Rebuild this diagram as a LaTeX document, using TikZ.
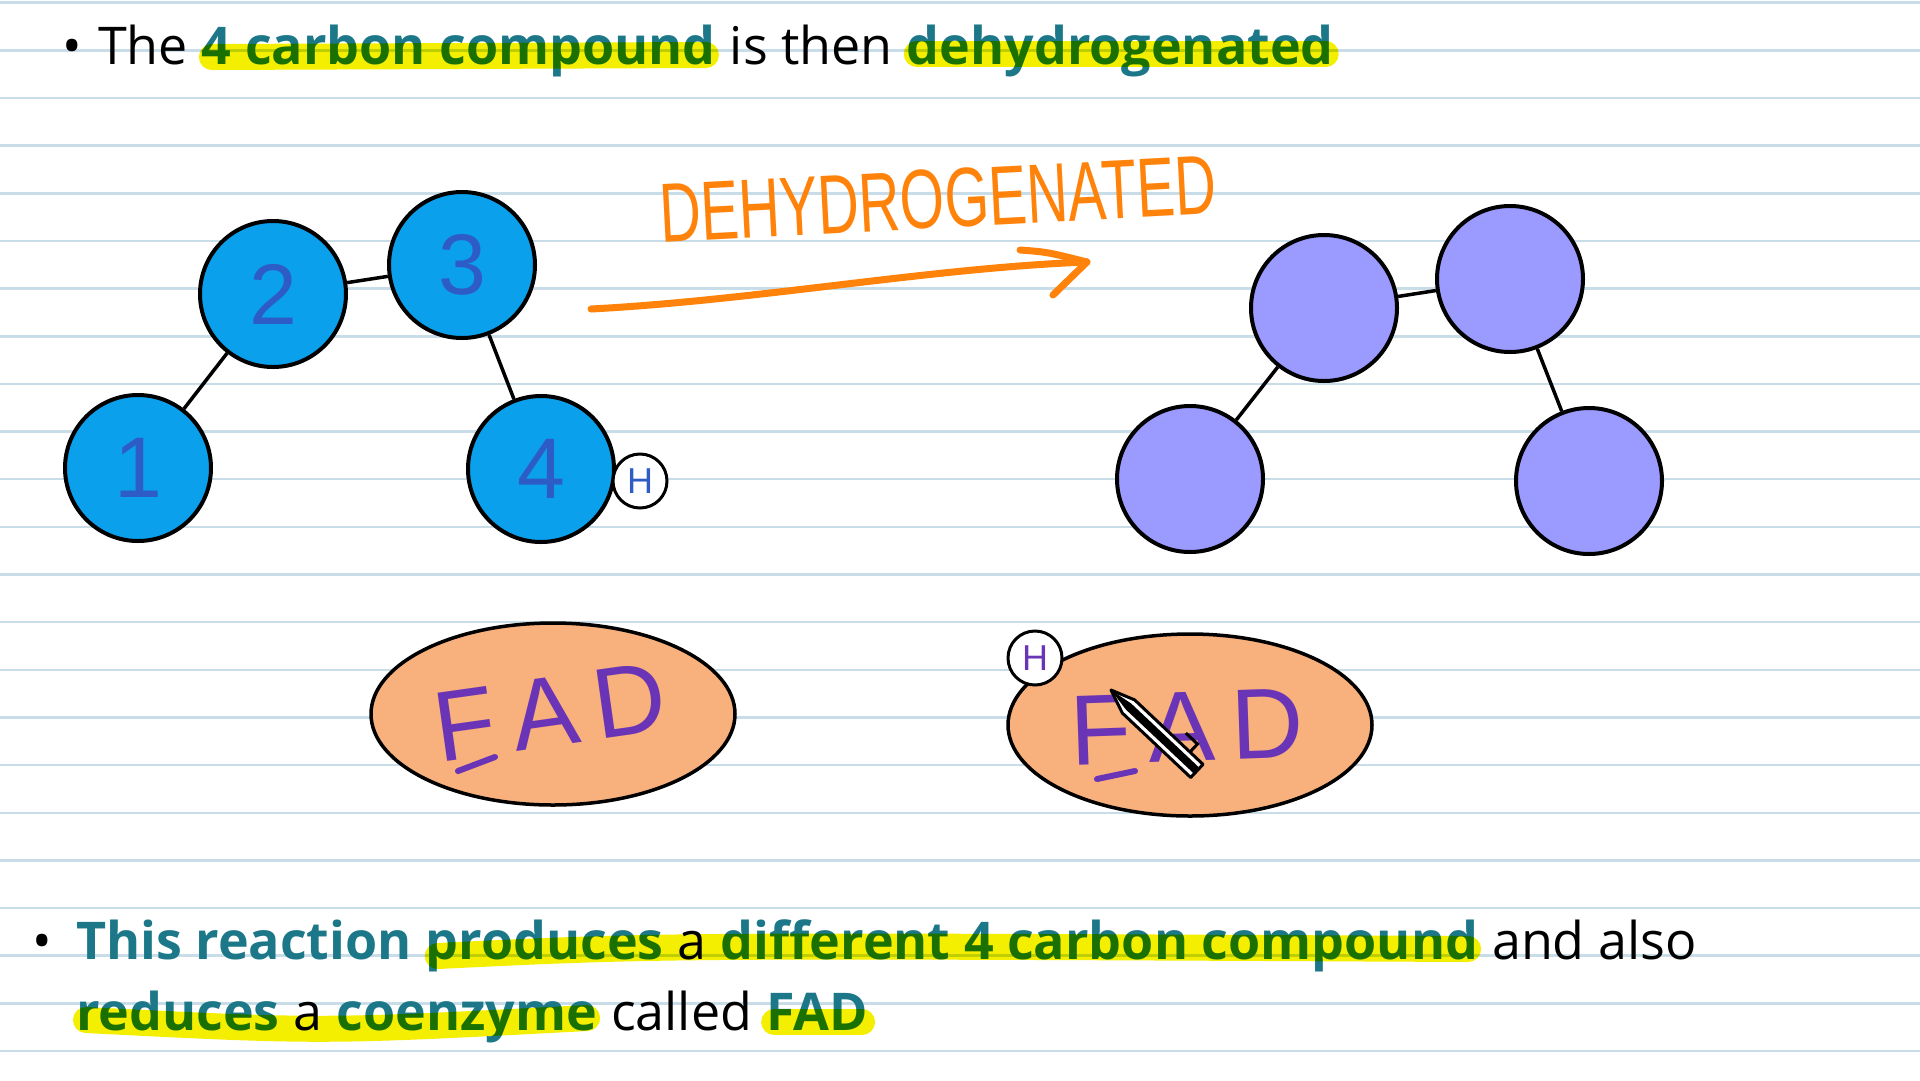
\documentclass[tikz,border=0pt]{standalone}
\usepackage{fontspec}
\usepackage{graphicx}
\setmainfont{Open Sans}
\newfontfamily\handfont{Liberation Sans}
\usetikzlibrary{calc}
\definecolor{rulecol}{HTML}{C8DDE8}
\definecolor{tealtx}{HTML}{1C7888}
\definecolor{hlyel}{HTML}{F4EE00}
\definecolor{cblue}{HTML}{0BA0EC}
\definecolor{cpurp}{HTML}{9A9AFF}
\definecolor{numblue}{HTML}{2E5CC6}
\definecolor{peach}{HTML}{F8B07C}
\definecolor{fadpurp}{HTML}{6A34B6}
\definecolor{orng}{HTML}{FF820A}
\tikzset{
  txt/.style={anchor=base west, inner sep=0pt, outer sep=0pt, font=\fontsize{52}{62}\selectfont},
  btxt/.style={txt, font=\fontsize{52}{62}\selectfont\bfseries, text=tealtx},
  hl/.style={draw=hlyel, line width=26pt, line cap=round},
  atom/.style={circle, draw=black, line width=4pt, minimum size=146pt, inner sep=0pt},
  bluatom/.style={atom, fill=cblue, text=numblue, font=\handfont\fontsize{86}{86}\selectfont},
  purpatom/.style={atom, fill=cpurp},
  bond/.style={draw=black, line width=3.5pt},
  hion/.style={circle, draw=black, line width=3pt, fill=white, minimum size=54pt, inner sep=0pt, font=\handfont\fontsize{36}{36}\selectfont},
  fadell/.style={ellipse, draw=black, line width=3.5pt, fill=peach, minimum width=364pt, minimum height=182pt, inner sep=0pt},
  fadtxt/.style={inner sep=0pt, text=fadpurp, font=\handfont\fontsize{100}{100}\selectfont},
}
\usetikzlibrary{shapes.geometric}
\begin{document}
\begin{tikzpicture}[x=1pt,y=-1pt]
\useasboundingbox (0,0) rectangle (1920,1080);
\fill[white] (0,0) rectangle (1920,1080);
\foreach \k in {0,...,22} \draw[rulecol, line width=2.5pt] (0,{2.7+47.65*\k}) -- (1920,{2.7+47.65*\k});

% top line
\node[txt] (b0) at (62,64) {•};
\node[txt] (t1) at (98,64) {The};
\node[btxt] (t2) at ($(t1.base east)+(14,0)$) {4 carbon compound};
\node[txt] (t3) at ($(t2.base east)+(14,0)$) {is then};
\node[btxt] (t4) at ($(t3.base east)+(14,0)$) {dehydrogenated};
\begin{scope}[blend mode=multiply]
\draw[hl] ($(t2.base west)+(10,-7)$) -- ($(t2.base east)+(-10,-9)$);
\draw[hl] ($(t4.base west)+(10,-10)$) -- ($(t4.base east)+(-8,-10)$);
\end{scope}

% left molecule
\node[bluatom] (c1) at (138,468) {1};
\node[bluatom] (c2) at (273,294) {2};
\node[bluatom] (c3) at (462,265) {3};
\node[bluatom] (c4) at (541,469) {4};
\draw[bond] (c1) -- (c2);
\draw[bond] (c2) -- (c3);
\draw[bond] (c3) -- (c4);
\node[hion, text=numblue] (h1) at (640,481) {H};

% arrow
\node[inner sep=0pt, text=orng, rotate=3] (lab) at (938,199) {\scalebox{0.68}[1]{\handfont\fontsize{84}{84}\selectfont DEHYDROGENATED}};
\coordinate (a0) at (591,309);
\coordinate (a1) at (1087,262);
\draw[orng, line width=7pt, line cap=round] (a0) .. controls (760,300) and (930,268) .. (a1);
\draw[orng, line width=7pt, line cap=round, line join=round] ($(a1)+(-67,-12)$) .. controls ($(a1)+(-40,-10)$) .. (a1) -- ($(a1)+(-34,33)$);

% right molecule
\node[purpatom] (d1) at (1190,479) {};
\node[purpatom] (d2) at (1324,308) {};
\node[purpatom] (d3) at (1510,279) {};
\node[purpatom] (d4) at (1589,481) {};
\draw[bond] (d1) -- (d2);
\draw[bond] (d2) -- (d3);
\draw[bond] (d3) -- (d4);

% FAD left
\node[fadell] (e1) at (553,714) {};
\node[fadtxt, rotate=8] (f1) at (550,712) {F\,A\,D};
\draw[fadpurp, line width=6pt, line cap=round] (458,771) -- (495,757);

% FAD right
\node[fadell] (e2) at (1190,725) {};
\node[fadtxt, rotate=2] (f2) at (1187,727) {F\,A\,D};
\draw[fadpurp, line width=6pt, line cap=round] (1097,779) -- (1135,771);
\node[hion, text=fadpurp] (h2) at (1035,658) {H};

% pen cursor
\begin{scope}[shift={(1111,690)}, rotate=-43.3]
\draw[black, line width=3pt, fill=white, line join=round] (0,0) -- (24,-9) -- (118,-9) -- (118,9) -- (24,9) -- cycle;
\fill[black] (0,0) -- (24,-4) -- (118,-4) -- (118,4) -- (24,4) -- cycle;
\draw[black, line width=3pt] (100,-9) -- (100,-20) -- (84,-20);
\end{scope}

% bottom text
\node[txt] (b1) at (32,959) {•};
\node[btxt] (u1) at (76,959) {This reaction};
\node[btxt] (u2) at ($(u1.base east)+(14,0)$) {produces};
\node[txt] (u3) at ($(u2.base east)+(14,0)$) {a};
\node[btxt] (u4) at ($(u3.base east)+(14,0)$) {different 4 carbon compound};
\node[txt] (u5) at ($(u4.base east)+(14,0)$) {and also};
\node[btxt] (v1) at (76,1030) {reduces};
\node[txt] (v2) at ($(v1.base east)+(14,0)$) {a};
\node[btxt] (v3) at ($(v2.base east)+(14,0)$) {coenzyme};
\node[txt] (v4) at ($(v3.base east)+(14,0)$) {called};
\node[btxt] (v5) at ($(v4.base east)+(14,0)$) {FAD};
\begin{scope}[blend mode=multiply]
\draw[hl] ($(u2.base west)+(12,-3)$) .. controls ($(u2.base east)+(0,-14)$) .. ($(u4.base east)+(-10,-10)$);
\draw[hl] ($(v1.base west)+(10,-10)$) .. controls ($(v2.base east)+(0,2)$) .. ($(v3.base east)+(-10,-12)$);
\draw[hl] ($(v5.base west)+(8,-8)$) -- ($(v5.base east)+(-6,-8)$);
\end{scope}
\end{tikzpicture}
\end{document}
